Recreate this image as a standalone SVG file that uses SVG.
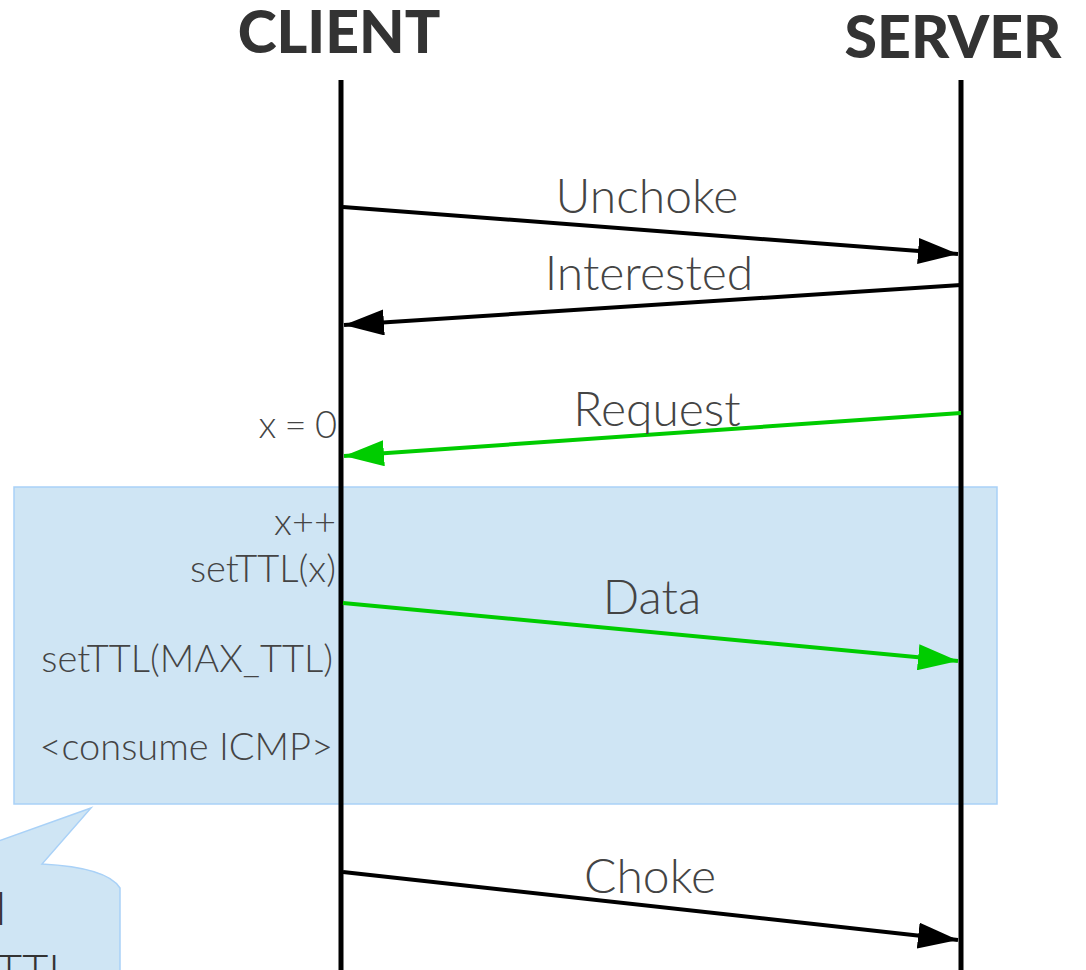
<svg xmlns="http://www.w3.org/2000/svg" width="1086" height="970" viewBox="0 0 1086 970">
  <style>
    .head { font-family: Lato, "Liberation Sans", sans-serif; font-weight: 900; font-size: 59px; fill: #333333; text-anchor: middle; }
    .msg { font-family: Lato, "Liberation Sans", sans-serif; font-weight: 300; font-size: 48px; fill: #444444; text-anchor: middle; }
    .note { font-family: Lato, "Liberation Sans", sans-serif; font-weight: 300; font-size: 38px; fill: #444444; text-anchor: end; }
    .bubble { font-family: Lato, "Liberation Sans", sans-serif; font-weight: 300; font-size: 45px; fill: #333333; text-anchor: end; }
    .life { stroke: #000000; stroke-width: 5; }
    .arrow { stroke-width: 4; fill: none; }
    .black { stroke: #000000; marker-end: url(#headBlack); }
    .green { stroke: #00cc00; marker-end: url(#headGreen); }
    .panel { fill: #cfe5f4; stroke: #a9d1f7; stroke-width: 1.5; }
  </style>
  <defs>
    <marker id="headBlack" viewBox="0 0 40 26" refX="40" refY="13" markerWidth="40" markerHeight="26" markerUnits="userSpaceOnUse" orient="auto">
      <path d="M0,0 L40,13 L0,26 z" fill="#000000"/>
    </marker>
    <marker id="headGreen" viewBox="0 0 40 26" refX="40" refY="13" markerWidth="40" markerHeight="26" markerUnits="userSpaceOnUse" orient="auto">
      <path d="M0,0 L40,13 L0,26 z" fill="#00cc00"/>
    </marker>
  </defs>

  <rect width="1086" height="970" fill="#ffffff"/>

  <!-- loop region behind the lifelines -->
  <g id="ttl-loop">
    <rect class="panel" x="14" y="487" width="983" height="317"/>
  </g>

  <!-- speech bubble in the lower-left corner -->
  <g id="callout">
    <path class="panel" d="M-10,844 L91,808 L42,864 C80,866 110,872 120,888 L120,975 L-10,975 z"/>
    <text class="bubble" x="6" y="925">l</text>
    <text class="bubble" x="71" y="987">RTTL</text>
  </g>

  <g id="client">
    <text class="head" x="339" y="53">CLIENT</text>
    <line class="life" x1="341" y1="80" x2="341" y2="975"/>
  </g>
  <g id="server">
    <text class="head" x="953" y="58">SERVER</text>
    <line class="life" x1="961" y1="80" x2="961" y2="975"/>
  </g>

  <g id="connectors">
    <line class="arrow black" x1="343" y1="207" x2="958" y2="254"/>
    <line class="arrow black" x1="961" y1="285" x2="344" y2="325"/>
    <line class="arrow green" x1="961" y1="413" x2="344" y2="456"/>
    <line class="arrow green" x1="343" y1="603" x2="958" y2="661"/>
    <line class="arrow black" x1="343" y1="872" x2="958" y2="940"/>
  </g>

  <g id="labels">
    <text class="msg" x="647" y="213">Unchoke</text>
    <text class="msg" x="649" y="290">Interested</text>
    <text class="msg" x="657" y="426">Request</text>
    <text class="msg" x="652" y="614">Data</text>
    <text class="msg" x="650" y="893">Choke</text>
  </g>

  <g id="client-notes">
    <text class="note" x="337" y="438" style="word-spacing:-2px">x = 0</text>
    <text class="note" x="336" y="535">x++</text>
    <text class="note" x="336" y="582">setTTL(x)</text>
    <text class="note" x="333" y="672">setTTL(MAX_TTL)</text>
    <text class="note" x="333" y="760">&lt;consume ICMP&gt;</text>
  </g>
</svg>
